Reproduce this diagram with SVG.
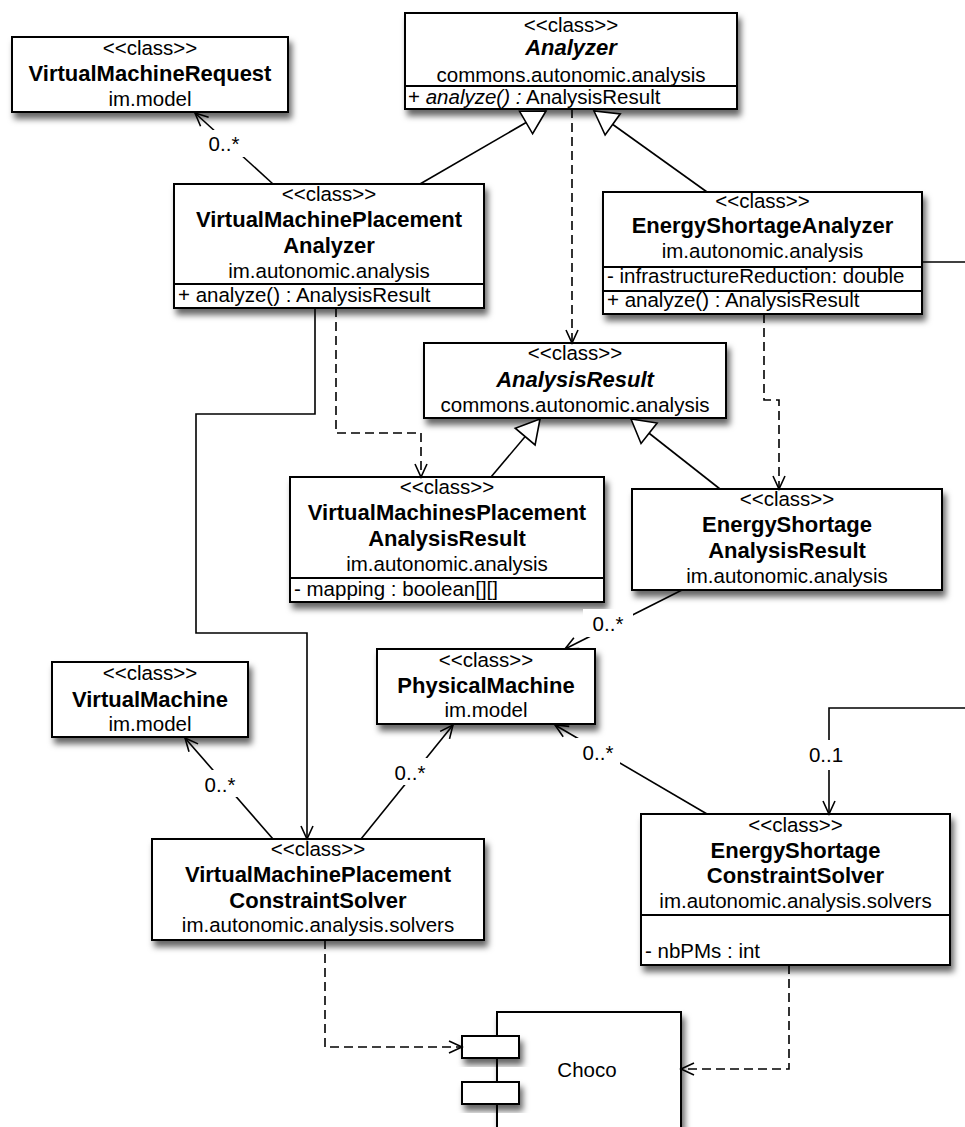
<svg xmlns="http://www.w3.org/2000/svg" width="965" height="1127" viewBox="0 0 965 1127">
<style>
.bg{fill:#fff}
.box{fill:#fff;stroke:#000;stroke-width:2;filter:url(#sh)}
.dv{stroke:#000;stroke-width:2}
text{font-family:"Liberation Sans",Arial,Helvetica,sans-serif;font-size:20.5px;fill:#000}
.c{text-anchor:middle}
.b{font-weight:bold;font-size:22px}
.i{font-style:italic}
.ln{fill:none;stroke:#000;stroke-width:1.6}
.da{stroke-dasharray:9 5}
.lb{fill:#fff;stroke:none}
</style>
<defs>
<filter id="sh" x="-10%" y="-10%" width="130%" height="150%">
<feDropShadow dx="3" dy="6" stdDeviation="3.2" flood-color="#000" flood-opacity="0.6"/>
</filter>
<marker id="open" markerUnits="userSpaceOnUse" markerWidth="30" markerHeight="30" viewBox="-15 -15 30 30" refX="0" refY="0" orient="auto" overflow="visible">
<path d="M-13,-6 L0,0 L-13,6" fill="none" stroke="#000" stroke-width="1.6"/>
</marker>
<marker id="gen" markerUnits="userSpaceOnUse" markerWidth="40" markerHeight="40" viewBox="-30 -20 40 40" refX="0" refY="0" orient="auto" overflow="visible">
<path d="M0,0 L-23,-13 L-23,13 Z" fill="#fff" stroke="#000" stroke-width="1.6"/>
</marker>
</defs>
<rect class="bg" x="0" y="0" width="965" height="1127"/>

<g id="VirtualMachineRequest">
<rect class="box" x="12" y="37" width="276" height="75"/>
<text class="c" x="150" y="55">&lt;&lt;class&gt;&gt;</text>
<text class="c b" x="150" y="81">VirtualMachineRequest</text>
<text class="c" x="150" y="106">im.model</text>
</g>

<g id="Analyzer">
<rect class="box" x="405" y="13" width="332" height="96"/>
<line class="dv" x1="405" y1="86" x2="737" y2="86"/>
<text class="c" x="571" y="32">&lt;&lt;class&gt;&gt;</text>
<text class="c b i" x="571" y="55">Analyzer</text>
<text class="c" x="571" y="82">commons.autonomic.analysis</text>
<text x="408" y="104">+ <tspan class="i">analyze() :</tspan> AnalysisResult</text>
</g>

<g id="VirtualMachinePlacementAnalyzer">
<rect class="box" x="174" y="184" width="310" height="124"/>
<line class="dv" x1="174" y1="284" x2="484" y2="284"/>
<text class="c" x="329" y="201">&lt;&lt;class&gt;&gt;</text>
<text class="c b" x="329" y="227">VirtualMachinePlacement</text>
<text class="c b" x="329" y="253">Analyzer</text>
<text class="c" x="329" y="278">im.autonomic.analysis</text>
<text x="178" y="302">+ analyze() : AnalysisResult</text>
</g>

<g id="EnergyShortageAnalyzer">
<rect class="box" x="603" y="192" width="319" height="122"/>
<line class="dv" x1="603" y1="267" x2="922" y2="267"/>
<line class="dv" x1="603" y1="291" x2="922" y2="291"/>
<text class="c" x="762.5" y="208">&lt;&lt;class&gt;&gt;</text>
<text class="c b" x="762.5" y="233">EnergyShortageAnalyzer</text>
<text class="c" x="762.5" y="258">im.autonomic.analysis</text>
<text x="607" y="283">- infrastructureReduction: double</text>
<text x="607" y="307">+ analyze() : AnalysisResult</text>
</g>

<g id="AnalysisResult">
<rect class="box" x="424" y="343" width="302" height="75"/>
<text class="c" x="575" y="360">&lt;&lt;class&gt;&gt;</text>
<text class="c b i" x="575" y="387">AnalysisResult</text>
<text class="c" x="575" y="412">commons.autonomic.analysis</text>
</g>

<g id="VirtualMachinesPlacementAnalysisResult">
<rect class="box" x="290" y="477" width="314" height="125"/>
<line class="dv" x1="290" y1="578" x2="604" y2="578"/>
<text class="c" x="447" y="494">&lt;&lt;class&gt;&gt;</text>
<text class="c b" x="447" y="520">VirtualMachinesPlacement</text>
<text class="c b" x="447" y="546">AnalysisResult</text>
<text class="c" x="447" y="571">im.autonomic.analysis</text>
<text x="294" y="596">- mapping : boolean[][]</text>
</g>

<g id="EnergyShortageAnalysisResult">
<rect class="box" x="632" y="489" width="310" height="101"/>
<text class="c" x="787" y="506">&lt;&lt;class&gt;&gt;</text>
<text class="c b" x="787" y="532">EnergyShortage</text>
<text class="c b" x="787" y="558">AnalysisResult</text>
<text class="c" x="787" y="583">im.autonomic.analysis</text>
</g>

<g id="VirtualMachine">
<rect class="box" x="52" y="662" width="196" height="75"/>
<text class="c" x="150" y="680">&lt;&lt;class&gt;&gt;</text>
<text class="c b" x="150" y="707">VirtualMachine</text>
<text class="c" x="150" y="731">im.model</text>
</g>

<g id="PhysicalMachine">
<rect class="box" x="377" y="649" width="218" height="75"/>
<text class="c" x="486" y="667">&lt;&lt;class&gt;&gt;</text>
<text class="c b" x="486" y="693">PhysicalMachine</text>
<text class="c" x="486" y="717">im.model</text>
</g>

<g id="VirtualMachinePlacementConstraintSolver">
<rect class="box" x="152" y="839" width="332" height="101"/>
<text class="c" x="318" y="856">&lt;&lt;class&gt;&gt;</text>
<text class="c b" x="318" y="882">VirtualMachinePlacement</text>
<text class="c b" x="318" y="908">ConstraintSolver</text>
<text class="c" x="318" y="932">im.autonomic.analysis.solvers</text>
</g>

<g id="EnergyShortageConstraintSolver">
<rect class="box" x="641" y="814" width="309" height="151"/>
<line class="dv" x1="641" y1="915" x2="950" y2="915"/>
<text class="c" x="795.5" y="832">&lt;&lt;class&gt;&gt;</text>
<text class="c b" x="795.5" y="858">EnergyShortage</text>
<text class="c b" x="795.5" y="883">ConstraintSolver</text>
<text class="c" x="795.5" y="908">im.autonomic.analysis.solvers</text>
<text x="645" y="958">- nbPMs : int</text>
</g>

<g id="Choco">
<rect class="box" x="497" y="1012" width="184" height="130"/>
<rect class="box" x="462" y="1036" width="57" height="22"/>
<rect class="box" x="462" y="1082" width="57" height="22"/>
<text class="c" x="587" y="1077">Choco</text>
</g>

<g id="connectors">
<path class="ln" d="M420,184 L546,111" marker-end="url(#gen)"/>
<path class="ln" d="M707,192 L594,111" marker-end="url(#gen)"/>
<path class="ln" d="M491,477 L540,419" marker-end="url(#gen)"/>
<path class="ln" d="M720,489 L631,419" marker-end="url(#gen)"/>
<path class="ln da" d="M572,109 L572,343" marker-end="url(#open)"/>
<path class="ln da" d="M336,308 L336,433 L421,433 L421,477" marker-end="url(#open)"/>
<path class="ln da" d="M764,314 L764,400 L779,400 L779,489" marker-end="url(#open)"/>
<path class="ln da" d="M325,940 L325,1047 L462,1047" marker-end="url(#open)"/>
<path class="ln da" d="M789,965 L789,1069 L681,1069" marker-end="url(#open)"/>
<path class="ln" d="M315,308 L315,414 L196,414 L196,633 L307,633 L307,839" marker-end="url(#open)"/>
<path class="ln" d="M273,184 L195,113" marker-end="url(#open)"/>
<path class="ln" d="M273,839 L185,738" marker-end="url(#open)"/>
<path class="ln" d="M361,839 L453,725" marker-end="url(#open)"/>
<path class="ln" d="M707,814 L555,725" marker-end="url(#open)"/>
<path class="ln" d="M682,590 L565,649" marker-end="url(#open)"/>
<path class="ln" d="M922,262 L965,262"/>
<path class="ln" d="M965,708 L829,708 L829,814" marker-end="url(#open)"/>
<rect class="lb" x="203" y="130" width="52" height="27"/>
<text class="c" x="224" y="151">0..*</text>
<rect class="lb" x="200" y="770" width="44" height="27"/>
<text class="c" x="220" y="792">0..*</text>
<rect class="lb" x="388" y="758" width="44" height="27"/>
<text class="c" x="410" y="780">0..*</text>
<rect class="lb" x="576" y="738" width="44" height="27"/>
<text class="c" x="598" y="760">0..*</text>
<rect class="lb" x="583" y="609" width="50" height="28"/>
<text class="c" x="608" y="631">0..*</text>
<rect class="lb" x="805" y="740" width="44" height="30"/>
<text class="c" x="826" y="762">0..1</text>
</g>
</svg>
